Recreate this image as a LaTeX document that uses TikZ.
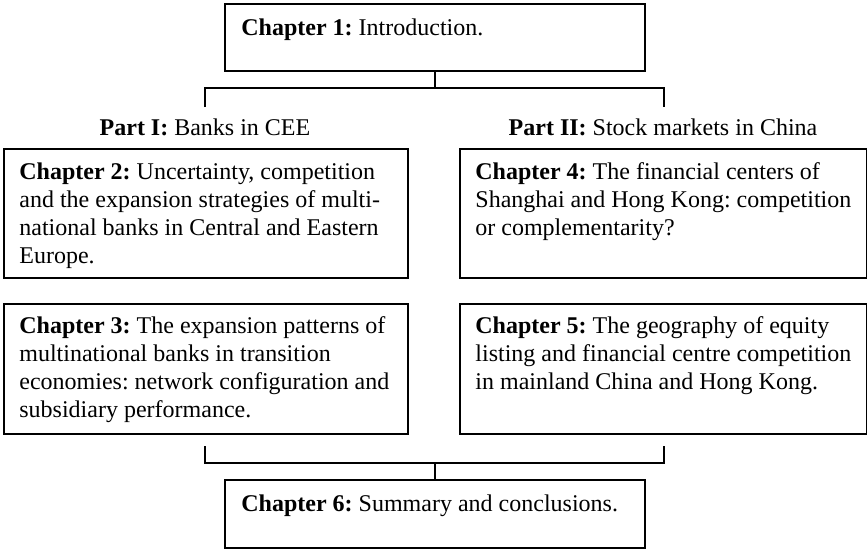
\documentclass[tikz,border=0pt]{standalone}
\usepackage{fontspec}
\setmainfont{Liberation Serif}
\frenchspacing
\begin{document}
\begin{tikzpicture}[x=1pt,y=1pt,
  chbox/.style={draw, line width=1pt, rectangle, inner sep=0pt, anchor=north west},
  chtext/.style={inner sep=0pt, anchor=north west, align=left, font=\fontsize{12}{14}\selectfont\frenchspacing},
  partlabel/.style={inner sep=0pt, anchor=base, font=\fontsize{12}{14}\selectfont\frenchspacing},
  link/.style={line width=1pt}]
\useasboundingbox (0,0) rectangle (433.5,-274);
% boxes
\node[chbox, minimum width=210pt, minimum height=33.5pt] (c1) at (112,-1.5) {};
\node[chbox, minimum width=202pt, minimum height=64.5pt] (c2) at (1.5,-74) {};
\node[chbox, minimum width=202pt, minimum height=65pt] (c3) at (1.5,-151.5) {};
\node[chbox, minimum width=203.5pt, minimum height=64.5pt] (c4) at (229.5,-74) {};
\node[chbox, minimum width=203.5pt, minimum height=65pt] (c5) at (229.5,-151.5) {};
\node[chbox, minimum width=210pt, minimum height=34pt] (c6) at (112,-239.5) {};
% texts
\node[chtext] (c1t) at ([shift={(8.5pt,-7.5pt)}]c1.north west) {\textbf{Chapter 1:} Introduction.};
\node[chtext] (c2t) at ([shift={(8pt,-7pt)}]c2.north west) {\textbf{Chapter 2:} Uncertainty, competition\\and the expansion strategies of multi-\\national banks in Central and Eastern\\Europe.};
\node[chtext] (c3t) at ([shift={(8pt,-6.5pt)}]c3.north west) {\textbf{Chapter 3:} The expansion patterns of\\multinational banks in transition\\economies: network configuration and\\subsidiary performance.};
\node[chtext] (c4t) at ([shift={(8pt,-7pt)}]c4.north west) {\textbf{Chapter 4:} The financial centers of\\Shanghai and Hong Kong: competition\\or complementarity?};
\node[chtext] (c5t) at ([shift={(8pt,-6.5pt)}]c5.north west) {\textbf{Chapter 5:} The geography of equity\\listing and financial centre competition\\in mainland China and Hong Kong.};
\node[chtext] (c6t) at ([shift={(8.5pt,-7.5pt)}]c6.north west) {\textbf{Chapter 6:} Summary and conclusions.};
% part labels
\node[partlabel] (p1) at (102.5,-67.5) {\textbf{Part I:} Banks in CEE};
\node[partlabel] (p2) at (331.5,-67.5) {\textbf{Part II:} Stock markets in China};
% top bracket
\coordinate (tl) at (102.5,-44);
\coordinate (tr) at (332,-44);
\coordinate (tlb) at (102.5,-53.5);
\coordinate (trb) at (332,-53.5);
\draw[link] (c1.south) -- (c1.south |- tl);
\draw[link] (tlb) -- (tl) -- (tr) -- (trb);
% bottom bracket
\coordinate (bl) at (102.5,-231.5);
\coordinate (br) at (332,-231.5);
\coordinate (blt) at (102.5,-223);
\coordinate (brt) at (332,-223);
\draw[link] (blt) -- (bl) -- (br) -- (brt);
\draw[link] (c6.north) -- (c6.north |- bl);
\end{tikzpicture}
\end{document}
